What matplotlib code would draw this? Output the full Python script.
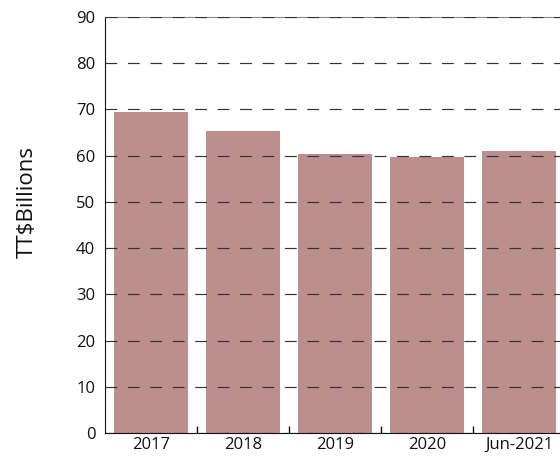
import numpy as np
import matplotlib.pyplot as plt
from matplotlib.ticker import FixedLocator

# Public debt outstanding, TT$ billions
periods = ["2017", "2018", "2019", "2020", "Jun-2021"]
debt = [69.5, 65.4, 60.4, 59.8, 61.1]

plt.rcParams['font.family'] = ['Open Sans', 'DejaVu Sans']

fig = plt.figure(figsize=(5.6, 4.57), dpi=100)
ax = fig.add_axes([0.1875, 0.0525, 0.8214, 0.9103])

x = np.arange(len(periods))
ax.bar(x, debt, width=0.81, color="#bc8f8f", zorder=1)

ax.set_xlim(-0.5, len(periods) - 0.5)
ax.set_ylim(0, 90)
ax.set_yticks(np.arange(0, 91, 10))
ax.set_xticks(x)
ax.set_xticklabels(periods)
ax.xaxis.set_minor_locator(FixedLocator(x[:-1] + 0.5))

ax.tick_params(axis="both", which="major", length=0, labelsize=12, colors="#111111")
ax.tick_params(axis="y", pad=7)
ax.tick_params(axis="x", pad=3)
ax.tick_params(axis="x", which="minor", direction="in", length=5, width=1, color="#111111")

ax.grid(axis="y", color="#333333", linewidth=0.85, linestyle=(0, (10, 9)), zorder=2.5)
ax.set_axisbelow(False)

ax.spines["right"].set_visible(False)
ax.spines["top"].set_color("#888888")
ax.spines["left"].set_color("#111111")
ax.spines["bottom"].set_color("#111111")

fig.text(0.048, 0.558, "TT$Billions", rotation=90, fontsize=16,
         ha="center", va="center", color="#111111")

fig.savefig("out.png", dpi=100)
